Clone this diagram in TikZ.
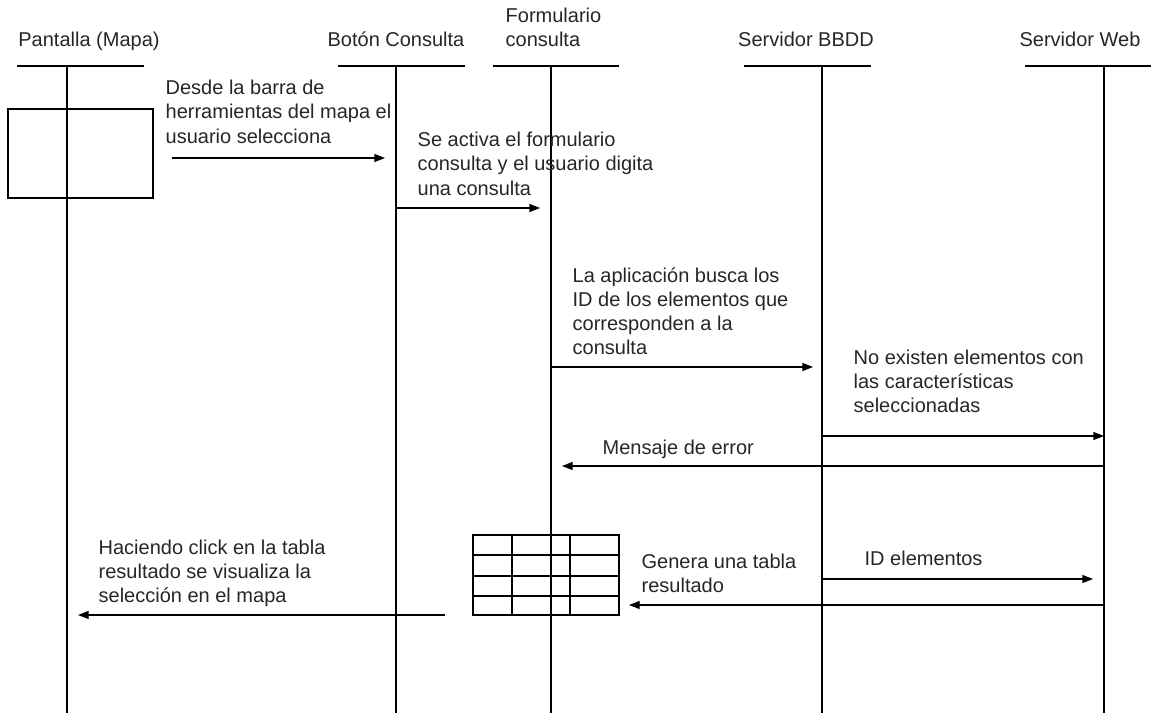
\documentclass[tikz,border=0pt]{standalone}
\usepackage{fontspec}
\setmainfont{Liberation Sans}
\usetikzlibrary{arrows.meta}
\begin{document}
\begin{tikzpicture}[x=0.75pt,y=-0.75pt,line width=1pt,
  lbl/.style={font=\fontsize{15}{18}\selectfont,inner sep=0pt,anchor=base west,align=left,text=black!85},
  hdr/.style={font=\fontsize{15}{18}\selectfont,inner sep=0pt,anchor=base,text=black!85},
  msg/.style={-{Triangle[length=8pt,width=6pt]}},
  box/.style={draw,inner sep=0pt}
]
\useasboundingbox (0,0) rectangle (1151,713);
% headers
\node[hdr] (hP) at (89,47) {Pantalla (Mapa)};
\node[hdr] (hB) at (396,47) {Botón Consulta};
\node[lbl] (hF) at (505,47) {Formulario\\consulta};
\node[hdr] (hD) at (806,47) {Servidor BBDD};
\node[hdr] (hW) at (1080,47) {Servidor Web};
\draw (17,66) -- (144,66);
\draw (338,66) -- (465,66);
\draw (493,66) -- (619,66);
\draw (744,66) -- (871,66);
\draw (1025,66) -- (1151,66);
% lifelines
\coordinate (Pt) at (67,66);   \coordinate (Pb) at (67,713);
\coordinate (Bt) at (396,66);  \coordinate (Bb) at (396,713);
\coordinate (Ft) at (551,66);  \coordinate (Fb) at (551,713);
\coordinate (Dt) at (822,66);  \coordinate (Db) at (822,713);
\coordinate (Wt) at (1104,66); \coordinate (Wb) at (1104,713);
\draw (Pt) -- (Pb);
\draw (Bt) -- (Bb);
\draw (Ft) -- (Fb);
\draw (Dt) -- (Db);
\draw (Wt) -- (Wb);
% screen box
\node[box,minimum width=108.75pt,minimum height=66.75pt] (screen) at (80.5,153.5) {};
% table
\node[box,minimum width=109.5pt,minimum height=60pt] (tabla) at (546,575) {};
\draw (tabla.west |- 0,555) -- (tabla.east |- 0,555);
\draw (tabla.west |- 0,576) -- (tabla.east |- 0,576);
\draw (tabla.west |- 0,596) -- (tabla.east |- 0,596);
\draw (tabla.north -| 512,0) -- (tabla.south -| 512,0);
\draw (tabla.north -| 570,0) -- (tabla.south -| 570,0);
% texts (anchor = baseline of last line)
\node[lbl] (t1) at (165,143) {Desde la barra de\\herramientas del mapa el\\usuario selecciona};
\node[lbl] (t2) at (417,195) {Se activa el formulario\\consulta y el usuario digita\\una consulta};
\node[lbl] (t3) at (572,354) {La aplicación busca los\\ID de los elementos que\\corresponden a la\\consulta};
\node[lbl] (t4) at (853,412) {No existen elementos con\\las características\\seleccionadas};
\node[lbl] (t5) at (602,454) {Mensaje de error};
\node[lbl] (t6) at (98,602) {Haciendo click en la tabla\\resultado se visualiza la\\selección en el mapa};
\node[lbl] (t7) at (641,592) {Genera una tabla\\resultado};
\node[lbl] (t8) at (864,565) {ID elementos};
% arrows
\coordinate (a1s) at (172,158); \coordinate (a1e) at (385,158);
\coordinate (a2s) at (396,208); \coordinate (a2e) at (540,208);
\coordinate (a3s) at (551,367); \coordinate (a3e) at (813,367);
\coordinate (a4s) at (822,436); \coordinate (a4e) at (1104,436);
\coordinate (a5s) at (1104,466); \coordinate (a5e) at (562,466);
\coordinate (a6s) at (445,615); \coordinate (a6e) at (78,615);
\coordinate (a7s) at (1104,605); \coordinate (a7e) at (629,605);
\coordinate (a8s) at (822,579); \coordinate (a8e) at (1093,579);
\draw[msg] (a1s) -- (a1e);
\draw[msg] (a2s) -- (a2e);
\draw[msg] (a3s) -- (a3e);
\draw[msg] (a4s) -- (a4e);
\draw[msg] (a5s) -- (a5e);
\draw[msg] (a6s) -- (a6e);
\draw[msg] (a7s) -- (a7e);
\draw[msg] (a8s) -- (a8e);
\end{tikzpicture}
\end{document}
